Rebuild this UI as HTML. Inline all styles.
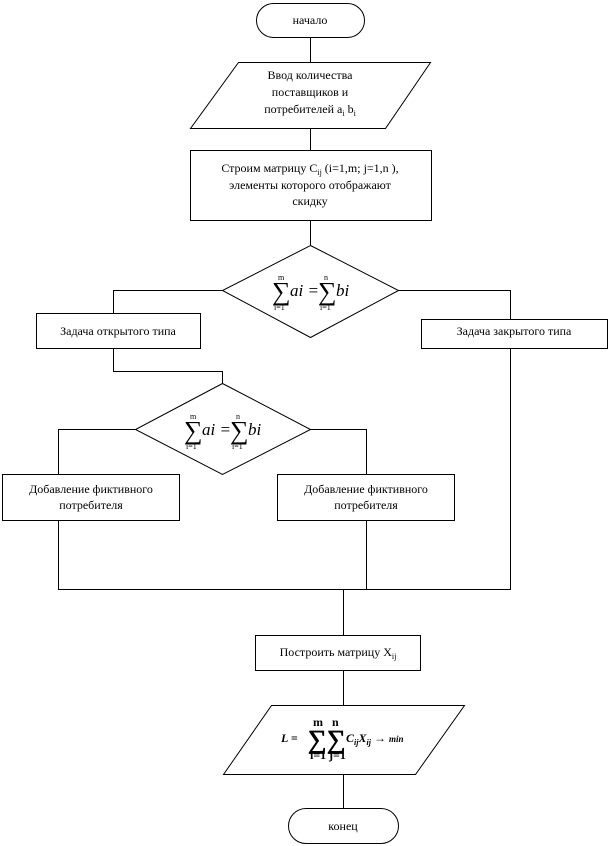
<!DOCTYPE html>
<html><head><meta charset="utf-8"><style>
html,body{margin:0;padding:0;background:#fff;}
svg{display:block;}
text{font-family:"Liberation Serif",serif;font-size:12px;fill:#000;}
.m{font-family:"Liberation Serif",serif;font-style:italic;font-size:17px;}
.s{font-family:"Liberation Serif",serif;font-size:26px;}
.t{font-size:8px;}
</style></head><body>
<svg width="610" height="846" viewBox="0 0 610 846" xmlns="http://www.w3.org/2000/svg" fill="none" stroke="#000" stroke-width="1">
<path d="M310.5 37V62M310.5 128V150M310.5 220V245"/>
<path d="M222 290.5H113.5V313M398 290.5H510.5V319"/>
<path d="M113.5 348V371.5H222.5V383"/>
<path d="M135 429.5H58.5V474M310 429.5H366.5V474"/>
<path d="M58.5 520V589.5H510.5V348M366.5 520V589.5M343.5 589.5V635M343.5 670V705M343.5 774V808"/>
<rect x="256.5" y="3.5" width="108" height="34" rx="17"/>
<polygon points="238.5,62.5 430.5,62.5 385.5,128.5 190.5,128.5"/>
<rect x="190.5" y="150.5" width="241" height="70"/>
<polygon points="310.5,245.5 398.5,290.5 310.5,337.5 222.5,290.5"/>
<rect x="36.5" y="313.5" width="164" height="35"/>
<rect x="421.5" y="319.5" width="186" height="29"/>
<polygon points="222.5,383.5 310.5,429.5 222.5,474.5 135.5,429.5"/>
<rect x="2.5" y="474.5" width="177" height="46"/>
<rect x="277.5" y="474.5" width="177" height="46"/>
<rect x="255.5" y="635.5" width="165" height="35"/>
<polygon points="271.5,705.5 464.5,705.5 415.5,774.5 223.5,774.5"/>
<rect x="288.5" y="808.5" width="110" height="35" rx="17.5"/>
<g stroke="none" fill="#000">
<text x="310" y="79" text-anchor="middle">Ввод количества</text>
<text x="310" y="24" text-anchor="middle">начало</text>
<text x="310" y="96" text-anchor="middle">поставщиков и</text>
<text x="310" y="113" text-anchor="middle">потребителей a<tspan font-size="8" dy="3">i</tspan><tspan dy="-3"> b</tspan><tspan font-size="8" dy="3">i</tspan></text>
<text x="310" y="172" text-anchor="middle">Строим матрицу C<tspan font-size="8" dy="3">ij</tspan><tspan dy="-3"> (i=1,m;  j=1,n ),</tspan></text>
<text x="310" y="189" text-anchor="middle">элементы которого отображают</text>
<text x="310" y="205" text-anchor="middle">скидку</text>
<text class="s" x="272" y="300">∑</text><text class="t" x="278" y="280">m</text><text class="t" x="274" y="310">i=1</text>
<text class="m" x="290" y="296">ai =</text>
<text class="s" x="318" y="300">∑</text><text class="t" x="324" y="280">n</text><text class="t" x="320" y="310">i=1</text>
<text class="m" x="336" y="296">bi</text>
<text x="118" y="335" text-anchor="middle">Задача открытого типа</text>
<text x="514" y="335" text-anchor="middle">Задача закрытого типа</text>
<text class="s" x="184" y="439">∑</text><text class="t" x="190" y="419">m</text><text class="t" x="186" y="449">i=1</text>
<text class="m" x="202" y="435">ai =</text>
<text class="s" x="230" y="439">∑</text><text class="t" x="236" y="419">n</text><text class="t" x="232" y="449">i=1</text>
<text class="m" x="248" y="435">bi</text>
<text x="91" y="493" text-anchor="middle">Добавление фиктивного</text>
<text x="91" y="509" text-anchor="middle">потребителя</text>
<text x="366" y="493" text-anchor="middle">Добавление фиктивного</text>
<text x="366" y="509" text-anchor="middle">потребителя</text>
<text x="338" y="656" text-anchor="middle">Построить матрицу X<tspan font-size="8" dy="3">ij</tspan></text>
<text x="281" y="742" font-weight="bold" font-style="italic" font-size="16">L =</text>
<text class="s" x="308" y="748" stroke="#000" stroke-width="0.8">∑</text>
<text class="s" x="327" y="748" stroke="#000" stroke-width="0.8">∑</text>
<text x="310" y="759" font-size="7" font-weight="bold">i=1</text>
<text x="329" y="759" font-size="7" font-weight="bold">j=1</text>
<text x="313" y="726" font-size="7" font-weight="bold">m</text>
<text x="332" y="726" font-size="7" font-weight="bold">n</text>
<text x="346" y="742" font-weight="bold" font-style="italic" font-size="15">C<tspan font-size="8" dy="3">ij</tspan><tspan dy="-3">X</tspan><tspan font-size="8" dy="3">ij</tspan><tspan dy="-3" font-style="normal"> → </tspan><tspan font-size="9">min</tspan></text>
<text x="343" y="830" text-anchor="middle">конец</text>
</g>
</svg>
</body></html>
